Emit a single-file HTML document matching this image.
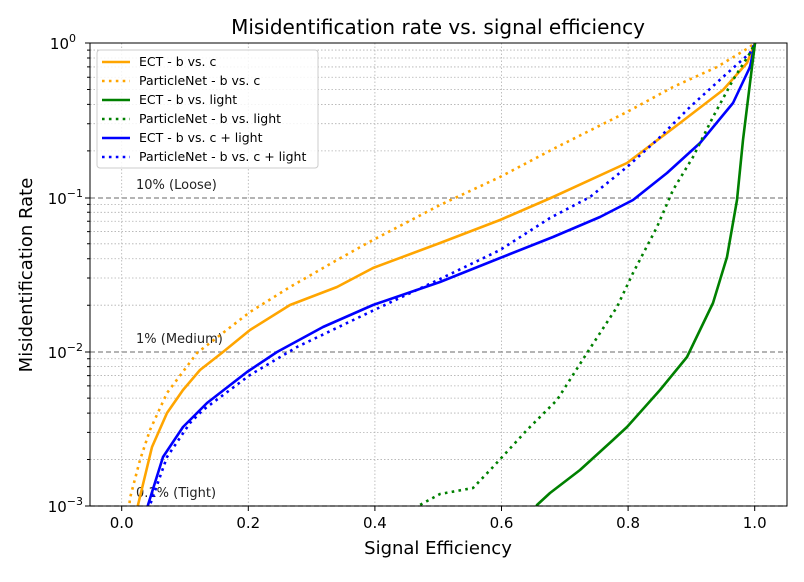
<!DOCTYPE html>
<html><head><style>body{margin:0;background:#fff}svg{font-family:"DejaVu Sans","Liberation Sans",sans-serif}</style></head>
<body>
<svg width="804" height="577" viewBox="0 0 804 577" xmlns="http://www.w3.org/2000/svg">
<rect width="804" height="577" fill="#fff"/>
<g id="grid" stroke="#b0b0b0" stroke-width="0.8" stroke-dasharray="1.5,2" fill="none">
<path d="M121.7 43V506M248.3 43V506M374.9 43V506M501.5 43V506M628.1 43V506M754.7 43V506"/>
<path id="minor" d=""/>
</g>
<g stroke="#888" stroke-width="1.2" stroke-dasharray="5,3"><path d="M90 198H787M90 352H787M90 506H787"/></g>
<g font-size="13" fill="#222"><text x="136" y="189">10% (Loose)</text><text x="136" y="343">1% (Medium)</text><text x="136" y="497">0.1% (Tight)</text></g>
<clipPath id="c"><rect x="90" y="43" width="697" height="463"/></clipPath>
<g clip-path="url(#c)" fill="none" stroke-width="2.6" stroke-linejoin="round">
<polyline stroke="orange" points="137,510 138,505 152,447 167,413 183,390 200,370 223,352 250,330 290,305 337,287 373,268 440,243 500,220 553,197 627,163 680,123 723,90 747,63 755,43"/>
<polyline stroke="orange" stroke-dasharray="2.6,4.3" points="129,510 130,498 140,460 150,430 167,393 197,353 250,312 290,287 337,260 373,240 440,205 500,177 557,147 627,112 673,87 717,67 750,47 755,42"/>
<polyline stroke="#0000ff" points="147,510 148,505 163,457 183,427 207,403 247,372 277,352 323,327 373,305 440,282 500,258 553,237 600,217 633,200 667,173 700,143 733,103 750,67 755,43"/>
<polyline stroke="#0000ff" stroke-dasharray="2.6,4.3" points="149,510 150,505 167,457 190,423 203,410 250,375 297,347 370,312 440,279 500,250 550,218 590,197 627,167 657,140 690,107 723,77 750,53 755,43"/>
<polyline stroke="green" stroke-dasharray="2.6,4.3" points="416,510 418,506 440,494 473,488 493,467 527,430 557,400 587,353 617,307 633,273 657,227 673,190 693,157 713,117 733,80 750,53 755,43"/>
<polyline stroke="green" points="535,510 537,505 550,493 580,470 613,440 627,427 660,390 687,357 713,303 727,257 737,200 743,140 750,83 755,43"/>
</g>
<rect x="90" y="43" width="697" height="463" fill="none" stroke="#000" stroke-width="1"/>
<g stroke="#000" stroke-width="1"><path d="M121.7 506v5M248.3 506v5M374.9 506v5M501.5 506v5M628.1 506v5M754.7 506v5M90 43h-5M90 198h-5M90 352h-5M90 506h-5"/><path id="mt" d=""/></g>
<g font-size="15" fill="#000" text-anchor="middle"><text x="121.7" y="528">0.0</text><text x="248.3" y="528">0.2</text><text x="374.9" y="528">0.4</text><text x="501.5" y="528">0.6</text><text x="628.1" y="528">0.8</text><text x="754.7" y="528">1.0</text></g>
<g font-size="15" fill="#000" text-anchor="end"><text x="76" y="49">10<tspan dy="-7" font-size="11">0</tspan></text><text x="83" y="204">10<tspan dy="-7" font-size="11">−1</tspan></text><text x="83" y="358">10<tspan dy="-7" font-size="11">−2</tspan></text><text x="83" y="512">10<tspan dy="-7" font-size="11">−3</tspan></text></g>
<text x="438" y="554" font-size="18" text-anchor="middle">Signal Efficiency</text>
<text transform="translate(32 275) rotate(-90)" font-size="18" text-anchor="middle">Misidentification Rate</text>
<text x="438" y="34" font-size="20" text-anchor="middle">Misidentification rate vs. signal efficiency</text>
<rect x="97" y="50" width="221" height="118" rx="3" fill="#fff" fill-opacity="0.85" stroke="#ccc"/>
<g stroke-width="2.6">
<path d="M102 62h28" stroke="orange"/><path d="M102 81h28" stroke="orange" stroke-dasharray="2.6,4.3"/>
<path d="M102 100h28" stroke="green"/><path d="M102 119h28" stroke="green" stroke-dasharray="2.6,4.3"/>
<path d="M102 138h28" stroke="#0000ff"/><path d="M102 157h28" stroke="#0000ff" stroke-dasharray="2.6,4.3"/>
</g>
<g font-size="12.5" fill="#000"><text x="139" y="66">ECT - b vs. c</text><text x="139" y="85">ParticleNet - b vs. c</text><text x="139" y="104">ECT - b vs. light</text><text x="139" y="123">ParticleNet - b vs. light</text><text x="139" y="142">ECT - b vs. c + light</text><text x="139" y="161">ParticleNet - b vs. c + light</text></g>
<script>
let d="",t="";
for(let k=0;k<3;k++){for(let m=2;m<10;m++){const y=506-154.33*k-154.33*Math.log10(m);d+=`M90 ${y}H787`;t+=`M90 ${y}h-3`;}}
document.getElementById('minor').setAttribute('d',d);document.getElementById('mt').setAttribute('d',t);
</script>
</svg>
</body></html>
